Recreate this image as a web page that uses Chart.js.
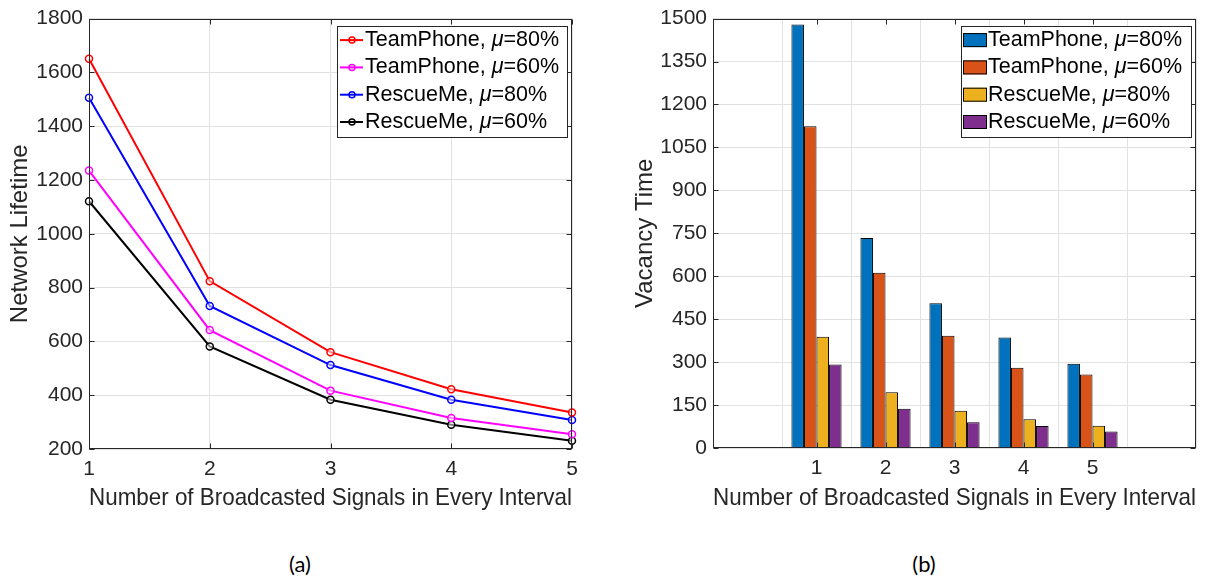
<!DOCTYPE html>
<html>
<head>
<meta charset="utf-8">
<script src="https://cdn.jsdelivr.net/npm/chart.js@4.4.1/dist/chart.umd.min.js"></script>
<style>
  html, body { margin: 0; padding: 0; background: #fff; }
  body { width: 1228px; height: 579px; position: relative; overflow: hidden; }
  .panel { position: absolute; top: 0; width: 614px; height: 520px; }
  .caption { position: absolute; top: 550px; font-family: Lato, "Liberation Sans", sans-serif; font-size: 22px; color: #000; transform: translateX(-50%); }
</style>
</head>
<body>
<div class="panel" style="left:0"><canvas id="lifeChart"></canvas></div>
<div class="panel" style="left:614px"><canvas id="vacChart"></canvas></div>
<div class="caption" style="left:300px">(a)</div>
<div class="caption" style="left:924px">(b)</div>
<script>
// data
const xValues = [1, 2, 3, 4, 5];
const seriesNames = ['TeamPhone', 'TeamPhone', 'RescueMe', 'RescueMe'];
const muValues = ['80%', '60%', '80%', '60%'];

const lifeTeam80 = [1651, 824, 560, 422, 336];
const lifeTeam60 = [1235, 642, 417, 315, 255];
const lifeRescue80 = [1506, 732, 512, 383, 308];
const lifeRescue60 = [1121, 581, 383, 290, 231];
const lifeTicks = [200, 400, 600, 800, 1000, 1200, 1400, 1600, 1800];

const vacTeam80 = [1479, 734, 506, 386, 294];
const vacTeam60 = [1124, 612, 392, 280, 257];
const vacRescue80 = [389, 195, 130, 100, 78];
const vacRescue60 = [292, 137, 90, 77, 58];
const vacTicks = [0, 150, 300, 450, 600, 750, 900, 1050, 1200, 1350, 1500];

const lineColors = ['#ff0000', '#ff00ff', '#0000ff', '#000000'];
const barColors = ['#0072bd', '#d95319', '#edb120', '#7e2f8e'];

const FONT = '"Liberation Sans", Arial, sans-serif';
const AXIS_COLOR = '#262626';
const GRID_COLOR = '#e2e2e2';
const TICK_LEN = 5;
const LEGEND_FONT = '21.5px ' + FONT;

function labelFor(i) { return seriesNames[i] + ', μ=' + muValues[i]; }
function toPoints(arr) { return arr.map((v, i) => ({ x: xValues[i], y: v })); }

// axes box + inward tick marks (matlab "box on"), then the legend inside the axes
const boxPlugin = {
  id: 'matlabBox',
  afterDatasetsDraw(chart) {
    const { ctx, chartArea: a, scales: { x, y } } = chart;
    ctx.save();
    ctx.strokeStyle = AXIS_COLOR;
    ctx.lineWidth = 1;
    const L = Math.round(a.left) + 0.5, R = Math.round(a.right) - 0.5;
    const T = Math.round(a.top) + 0.5, B = Math.round(a.bottom) - 0.5;
    ctx.strokeRect(L, T, R - L, B - T);
    ctx.beginPath();
    y.ticks.forEach(t => {
      const py = Math.round(y.getPixelForValue(t.value)) + 0.5;
      ctx.moveTo(L, py); ctx.lineTo(L + TICK_LEN, py);
      ctx.moveTo(R, py); ctx.lineTo(R - TICK_LEN, py);
    });
    xValues.forEach(v => {
      const px = Math.round(x.getPixelForValue(v)) + 0.5;
      ctx.moveTo(px, B); ctx.lineTo(px, B - TICK_LEN);
      ctx.moveTo(px, T); ctx.lineTo(px, T + TICK_LEN);
    });
    ctx.stroke();
    ctx.restore();
  },
  afterDraw(chart, args, opts) {
    const { ctx, chartArea: a } = chart;
    const w = 230, h = 111;
    const bx = a.right - 5 - w, by = a.top + 7;
    ctx.save();
    ctx.fillStyle = '#fff';
    ctx.fillRect(bx, by, w, h);
    ctx.strokeStyle = AXIS_COLOR;
    ctx.lineWidth = 1;
    ctx.strokeRect(Math.round(bx) + 0.5, Math.round(by) + 0.5, w, h);
    chart.data.datasets.forEach((ds, i) => {
      const cy = by + 14.5 + i * 27.3;
      let tx;
      if (opts.kind === 'line') {
        ctx.strokeStyle = ds.borderColor;
        ctx.lineWidth = 2;
        ctx.beginPath(); ctx.moveTo(bx + 3, cy); ctx.lineTo(bx + 26, cy); ctx.stroke();
        ctx.lineWidth = 1.5;
        ctx.beginPath(); ctx.arc(bx + 15, cy, 3, 0, Math.PI * 2); ctx.stroke();
        tx = bx + 28;
      } else {
        ctx.fillStyle = ds.backgroundColor;
        ctx.fillRect(bx + 2, cy - 7, 24, 14);
        ctx.strokeStyle = '#000';
        ctx.lineWidth = 1;
        ctx.strokeRect(bx + 2.5, cy - 6.5, 23, 13);
        tx = bx + 27;
      }
      const parts = ds.label.split('μ');
      ctx.fillStyle = '#000';
      ctx.textBaseline = 'middle';
      ctx.font = LEGEND_FONT;
      ctx.fillText(parts[0], tx, cy);
      tx += ctx.measureText(parts[0]).width;
      ctx.font = 'italic ' + LEGEND_FONT;
      ctx.fillText('μ', tx, cy);
      tx += ctx.measureText('μ').width;
      ctx.font = LEGEND_FONT;
      ctx.fillText(parts[1], tx, cy);
    });
    ctx.restore();
  }
};

Chart.defaults.font.family = FONT;
Chart.defaults.color = AXIS_COLOR;
Chart.defaults.animation = false;

function yAxis(ticks, title, width, titlePad) {
  return {
    type: 'linear',
    min: ticks[0], max: ticks[ticks.length - 1],
    afterBuildTicks: s => { s.ticks = ticks.map(v => ({ value: v })); },
    afterFit: s => { s.width = width; },
    grid: { color: GRID_COLOR, drawTicks: false },
    border: { display: false },
    ticks: { font: { size: 21 }, padding: 6, color: AXIS_COLOR, callback: v => String(v) },
    title: { display: true, text: title, font: { size: 24 }, color: AXIS_COLOR, padding: { top: titlePad, bottom: 0 } }
  };
}

function xAxis(min, max, height) {
  return {
    type: 'linear',
    min: min, max: max,
    afterBuildTicks: s => {
      const t = [];
      for (let v = min; v <= max; v++) t.push({ value: v });
      s.ticks = t;
    },
    afterFit: s => { s.height = height; },
    grid: { color: GRID_COLOR, drawTicks: false },
    border: { display: false },
    ticks: { font: { size: 21 }, padding: 8, color: AXIS_COLOR, maxRotation: 0,
             callback: v => xValues.includes(v) ? String(v) : '' },
    title: { display: true, text: 'Number of Broadcasted Signals in Every Interval',
             font: { size: 24 }, color: AXIS_COLOR, padding: { top: 0, bottom: 7 } }
  };
}

const lifeSeries = [lifeTeam80, lifeTeam60, lifeRescue80, lifeRescue60];
new Chart(document.getElementById('lifeChart'), {
  type: 'line',
  data: {
    datasets: lifeSeries.map((arr, i) => ({
      label: labelFor(i),
      data: toPoints(arr),
      borderColor: lineColors[i],
      backgroundColor: lineColors[i],
      borderWidth: 2,
      tension: 0,
      pointRadius: 3.5,
      pointBorderWidth: 1.5,
      pointBackgroundColor: 'rgba(255,255,255,0.5)',
      pointBorderColor: lineColors[i],
      clip: false
    }))
  },
  options: {
    responsive: true, maintainAspectRatio: false,
    layout: { padding: { left: 0, right: 42, top: 15, bottom: 0 } },
    plugins: { legend: { display: false }, tooltip: { enabled: false }, matlabBox: { kind: 'line' } },
    scales: { x: xAxis(1, 5, 71), y: yAxis(lifeTicks, 'Network Lifetime', 89, 6) }
  },
  plugins: [boxPlugin]
});

const vacSeries = [vacTeam80, vacTeam60, vacRescue80, vacRescue60];
new Chart(document.getElementById('vacChart'), {
  type: 'bar',
  data: {
    datasets: vacSeries.map((arr, i) => ({
      label: labelFor(i),
      data: toPoints(arr),
      backgroundColor: barColors[i],
      borderColor: '#000',
      borderWidth: 1,
      categoryPercentage: 0.727,
      barPercentage: 1
    }))
  },
  options: {
    responsive: true, maintainAspectRatio: false,
    layout: { padding: { left: 0, right: 32, top: 15, bottom: 0 } },
    plugins: { legend: { display: false }, tooltip: { enabled: false }, matlabBox: { kind: 'bar' } },
    scales: { x: xAxis(0, 6, 72), y: yAxis(vacTicks, 'Vacancy Time', 99, 17) }
  },
  plugins: [boxPlugin]
});
</script>
</body>
</html>
